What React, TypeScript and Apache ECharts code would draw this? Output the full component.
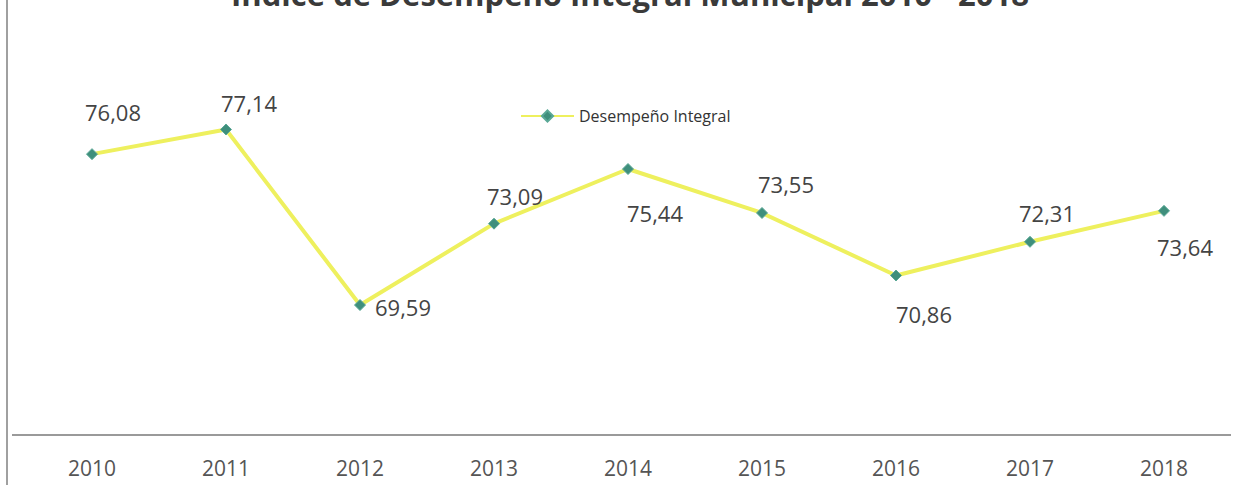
import React, { useEffect, useRef } from "react";
import * as echarts from "echarts";

const years = ["2010", "2011", "2012", "2013", "2014", "2015", "2016", "2017", "2018"];
const values = [76.08, 77.14, 69.59, 73.09, 75.44, 73.55, 70.86, 72.31, 73.64];
const labelOffsets: number[][] = [
  [21, -42], [23, -26], [43, 2], [21, -28], [27, 44], [24, -29], [28, 38], [17, -29], [21, 36],
];
const seriesName = "Desempeño Integral";
const titleText = "Índice de Desempeño Integral Municipal 2010 - 2018";

export default function App() {
  const ref = useRef<HTMLDivElement>(null);
  useEffect(() => {
    if (!ref.current) return;
    const chart = echarts.init(ref.current, undefined, { renderer: "svg" });
    const fmt = (v: number) => v.toFixed(2).replace(".", ",");
    chart.setOption({
      animation: false,
      backgroundColor: "#ffffff",
      textStyle: { fontFamily: "Open Sans" },
      graphic: [
        { type: "line", shape: { x1: 7, y1: 0, x2: 7, y2: 485 }, style: { stroke: "#a0a0a0", lineWidth: 2 } },
        { type: "line", shape: { x1: 12, y1: 435, x2: 1231, y2: 435 }, style: { stroke: "#9a9a9a", lineWidth: 2 } },
        {
          type: "text", x: 630, y: 9,
          style: {
            text: titleText, font: "bold 31px 'Open Sans'", fill: "#3a3a3a",
            textAlign: "center", textVerticalAlign: "bottom",
          },
        },
      ],
      legend: {
        left: 515, top: 103,
        itemWidth: 53, itemHeight: 14, itemGap: 6,
        textStyle: { fontSize: 16, color: "#333", fontFamily: "Open Sans" },
        data: [seriesName],
      },
      grid: { left: 25, right: 4, top: 63, bottom: 50, containLabel: false },
      xAxis: {
        type: "category",
        data: years,
        boundaryGap: true,
        axisLine: { show: false },
        axisTick: { show: false },
        axisLabel: { fontSize: 21, color: "#555", margin: 22, fontFamily: "Open Sans" },
      },
      yAxis: {
        type: "value", min: 64, max: 80,
        show: false,
        splitLine: { show: false },
      },
      series: [
        {
          name: seriesName,
          type: "line",
          data: values.map((v, i) => ({
            value: v,
            label: { offset: labelOffsets[i] },
          })),
          symbol: "diamond",
          symbolSize: 11,
          lineStyle: { color: "#eef05e", width: 4 },
          itemStyle: { color: "#3f8f7c", borderColor: "#5aa896", borderWidth: 1 },
          label: {
            show: true,
            position: "inside",
            align: "center",
            verticalAlign: "middle",
            fontSize: 22,
            color: "#444",
            fontFamily: "Open Sans",
            formatter: (p: any) => fmt(p.value),
          },
        },
      ],
    });
    return () => chart.dispose();
  }, []);
  return <div ref={ref} style={{ position: "fixed", left: 0, top: 0, width: 1235, height: 485 }} />;
}
